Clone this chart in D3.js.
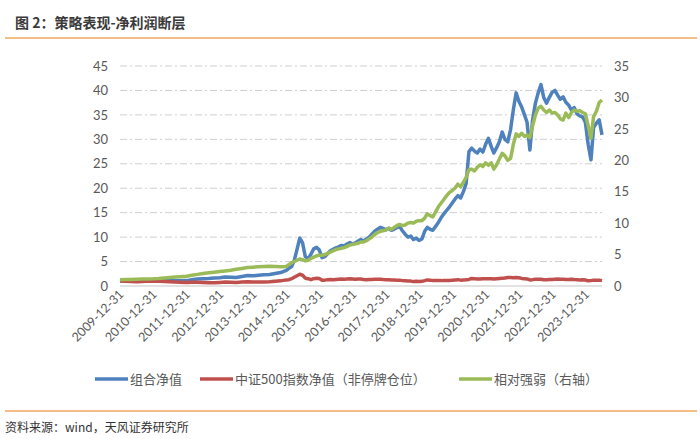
<!DOCTYPE html>
<html><head><meta charset="utf-8">
<script src="https://cdn.jsdelivr.net/npm/d3@7"></script>
<style>
html,body{margin:0;padding:0;background:#fff;}
svg{display:block;}
</style></head>
<body>
<svg id="c" width="700" height="439"></svg>
<script>
// ---- data ----
const title = "图 2：策略表现-净利润断层";
const source = "资料来源：wind，天风证券研究所";
const seriesNames = ["组合净值", "中证500指数净值（非停牌仓位）", "相对强弱（右轴）"];
const xTickLabels = ["2009-12-31","2010-12-31","2011-12-31","2012-12-31","2013-12-31","2014-12-31","2015-12-31","2016-12-31","2017-12-31","2018-12-31","2019-12-31","2020-12-31","2021-12-31","2022-12-31","2023-12-31"];
const leftTicks = [0,5,10,15,20,25,30,35,40,45];
const rightTicks = [0,5,10,15,20,25,30,35];

// dates: bi-monthly 2009-12..2014-12, monthly 2015-01..2024-06
const datesEarly = ["2009-12-31","2010-02-28","2010-04-30","2010-06-30","2010-08-31","2010-10-31","2010-12-31",
 "2011-02-28","2011-04-30","2011-06-30","2011-08-31","2011-10-31","2011-12-31",
 "2012-02-29","2012-04-30","2012-06-30","2012-08-31","2012-10-31","2012-12-31",
 "2013-02-28","2013-04-30","2013-06-30","2013-08-31","2013-10-31","2013-12-31",
 "2014-02-28","2014-04-30","2014-06-30","2014-08-31","2014-10-31","2014-12-31"];
const monthsLate = [];
for (let y = 2015; y <= 2024; y++) for (let m = 1; m <= 12; m++) { if (y === 2024 && m > 6) break; monthsLate.push(y + "-" + String(m).padStart(2,"0") + "-28"); }
const dates = datesEarly.concat(monthsLate);

const portfolio = [
 1.00,1.02,0.98,0.95,1.05,1.15,1.12,
 1.18,1.22,1.15,1.10,1.08,1.10,
 1.30,1.45,1.50,1.55,1.65,1.70,
 1.85,1.80,1.75,1.95,2.15,2.10,
 2.20,2.30,2.35,2.55,2.75,3.20,
 3.6,4.0,5.2,7.5,9.8,8.8,6.0,5.6,6.5,7.6,7.9,7.4,
 5.8,6.0,6.6,7.2,7.5,7.8,8.0,8.3,8.2,8.6,8.9,8.6,
 8.8,9.2,9.5,9.2,9.6,10.0,10.6,11.2,11.6,12.0,11.8,11.5,
 11.8,11.4,11.6,11.9,12.2,11.3,10.6,10.0,10.2,9.5,9.8,9.3,
 9.6,11.2,12.0,11.6,11.4,12.2,13.0,14.0,14.8,15.5,16.2,17.0,
 17.8,18.5,18.0,19.3,21.0,27.5,28.2,27.6,27.2,28.0,27.4,29.0,
 30.2,28.5,27.2,28.3,29.5,31.5,30.0,29.5,32.0,36.0,39.5,37.8,
 36.6,35.0,33.5,27.8,34.0,37.4,39.5,41.2,38.5,37.4,38.6,39.6,
 40.0,39.0,38.2,38.7,37.6,37.0,36.0,36.5,35.2,34.8,34.6,33.5,
 29.0,25.8,32.5,33.3,34.0,30.9];
const csi500 = [
 1.00,0.98,0.92,0.85,0.90,1.00,0.95,
 0.95,0.93,0.88,0.80,0.75,0.70,
 0.75,0.78,0.72,0.68,0.66,0.72,
 0.80,0.78,0.72,0.80,0.85,0.82,
 0.80,0.82,0.85,0.95,1.05,1.25,
 1.3,1.5,1.8,2.1,2.4,2.2,1.6,1.5,1.3,1.5,1.6,1.55,
 1.2,1.2,1.3,1.35,1.3,1.35,1.4,1.45,1.4,1.45,1.5,1.45,
 1.4,1.45,1.42,1.35,1.3,1.33,1.35,1.38,1.4,1.38,1.32,1.3,
 1.3,1.25,1.25,1.2,1.2,1.1,1.05,1.0,1.0,0.9,0.95,0.9,
 0.95,1.1,1.25,1.2,1.1,1.12,1.1,1.1,1.15,1.15,1.12,1.2,
 1.25,1.3,1.2,1.25,1.28,1.35,1.55,1.5,1.45,1.45,1.5,1.48,
 1.5,1.5,1.45,1.5,1.55,1.6,1.65,1.75,1.72,1.68,1.72,1.7,
 1.55,1.5,1.45,1.25,1.3,1.4,1.4,1.38,1.3,1.28,1.35,1.32,
 1.4,1.42,1.4,1.38,1.35,1.35,1.38,1.32,1.3,1.25,1.27,1.22,
 1.05,1.1,1.2,1.18,1.2,1.1];
const relative = [
 1.00,1.03,1.05,1.08,1.10,1.12,1.15,
 1.20,1.28,1.35,1.42,1.48,1.55,
 1.70,1.85,2.00,2.10,2.20,2.30,
 2.40,2.50,2.65,2.80,2.95,3.00,
 3.05,3.10,3.15,3.10,3.05,3.10,
 3.4,3.7,3.9,4.1,4.3,4.2,4.0,4.1,4.4,4.6,4.8,4.9,
 4.9,5.0,5.2,5.4,5.6,5.8,5.9,6.0,6.1,6.3,6.5,6.6,
 6.7,6.8,7.0,7.0,7.2,7.5,7.8,8.2,8.5,8.7,8.8,8.9,
 9.2,9.0,9.3,9.6,9.8,9.6,9.7,10.0,10.1,10.0,10.3,10.4,
 10.4,10.8,11.5,11.2,11.0,11.8,12.6,13.2,13.8,14.4,14.9,15.2,
 15.6,16.2,15.8,16.5,17.3,18.5,18.6,18.3,18.9,19.3,19.0,19.6,
 19.2,19.6,18.6,19.3,20.2,21.1,20.7,20.0,20.3,22.5,24.2,23.8,
 24.3,23.8,24.0,23.6,25.5,27.2,28.3,28.6,28.0,27.6,28.0,27.5,
 27.6,27.2,26.6,26.4,27.5,26.8,27.6,28.0,27.8,27.9,27.6,27.4,
 25.5,23.5,27.0,27.8,29.2,29.6];

// ---- chart ----
const svg = d3.select("#c");
const parse = d3.timeParse("%Y-%m-%d");
const colors = ["#4F81BD", "#C0504D", "#9BBB59"];
const pLeft = 120, pRight = 602, pTop = 66, pBottom = 286;

const x = d3.scaleTime().domain([parse("2009-12-31"), parse("2024-06-28")]).range([pLeft, pRight]);
const yL = d3.scaleLinear().domain([0, 45]).range([pBottom, pTop]);
const yR = d3.scaleLinear().domain([0, 35]).range([pBottom, pTop]);

const cjk = "'Noto Sans CJK SC','Noto Sans',sans-serif";
const num = "Lato,'Open Sans',sans-serif";

// title
svg.append("text").attr("x", 15).attr("y", 28).text(title)
  .attr("font-family", cjk).attr("font-weight", 700).attr("font-size", 14).attr("fill", "#3a3a3a");
svg.append("line").attr("x1", 5).attr("x2", 697).attr("y1", 38).attr("y2", 38)
  .attr("stroke", "#F2A862").attr("stroke-width", 1.5);
svg.append("line").attr("x1", 5).attr("x2", 697).attr("y1", 411).attr("y2", 411)
  .attr("stroke", "#F2A862").attr("stroke-width", 1.5);
svg.append("text").attr("x", 5).attr("y", 432).text(source)
  .attr("font-family", cjk).attr("font-size", 12).attr("fill", "#333");

// grid
const gGrid = svg.append("g");
gGrid.selectAll("line").data(leftTicks.filter(d => d > 0)).join("line")
  .attr("x1", pLeft).attr("x2", pRight).attr("y1", d => yL(d)).attr("y2", d => yL(d))
  .attr("stroke", "#CFCFCF").attr("stroke-width", 1).attr("stroke-dasharray", "7,3,2,3");
svg.append("line").attr("x1", pLeft).attr("x2", pRight).attr("y1", pBottom).attr("y2", pBottom)
  .attr("stroke", "#D9D9D9").attr("stroke-width", 1.5);

// left axis
const axL = svg.append("g").attr("transform", `translate(${pLeft},0)`)
  .call(d3.axisLeft(yL).tickValues(leftTicks).tickSize(0).tickPadding(12));
axL.select(".domain").remove();
axL.selectAll("text").attr("font-family", num).attr("font-size", 13).attr("fill", "#595959");

const axR = svg.append("g").attr("transform", `translate(${pRight},0)`)
  .call(d3.axisRight(yR).tickValues(rightTicks).tickSize(0).tickPadding(12));
axR.select(".domain").remove();
axR.selectAll("text").attr("font-family", num).attr("font-size", 13).attr("fill", "#595959");

// x axis
const axX = svg.append("g").attr("transform", `translate(0,${pBottom})`)
  .call(d3.axisBottom(x).tickValues(xTickLabels.map(parse)).tickSize(0).tickFormat(d3.timeFormat("%Y-%m-%d")));
axX.select(".domain").remove();
axX.selectAll("text").attr("font-family", num).attr("font-size", 12.5).attr("fill", "#595959")
  .attr("text-anchor", "end").attr("dy", null).attr("y", 0)
  .attr("transform", "translate(4,9) rotate(-45)");

// lines
const pts = dates.map(parse);
const lineL = d3.line().x((d, i) => x(pts[i])).y(d => yL(d));
const lineR = d3.line().x((d, i) => x(pts[i])).y(d => yR(d));
const series = [
  {v: portfolio, l: lineL, c: colors[0]},
  {v: csi500, l: lineL, c: colors[1]},
  {v: relative, l: lineR, c: colors[2]}
];
svg.append("g").selectAll("path").data(series).join("path")
  .attr("d", d => d.l(d.v)).attr("fill", "none").attr("stroke", d => d.c)
  .attr("stroke-width", 3.5).attr("stroke-linejoin", "round");

// legend
const legendX = [95, 200, 459];
const lg = svg.append("g").selectAll("g").data(seriesNames).join("g")
  .attr("transform", (d, i) => `translate(${legendX[i]},379)`);
lg.append("line").attr("x1", 0).attr("x2", 33).attr("stroke", (d, i) => colors[i]).attr("stroke-width", 3.5);
lg.append("text").attr("x", 35).attr("y", 5).text(d => d)
  .attr("font-family", cjk).attr("font-size", 13).attr("fill", "#595959");
</script>
</body></html>
